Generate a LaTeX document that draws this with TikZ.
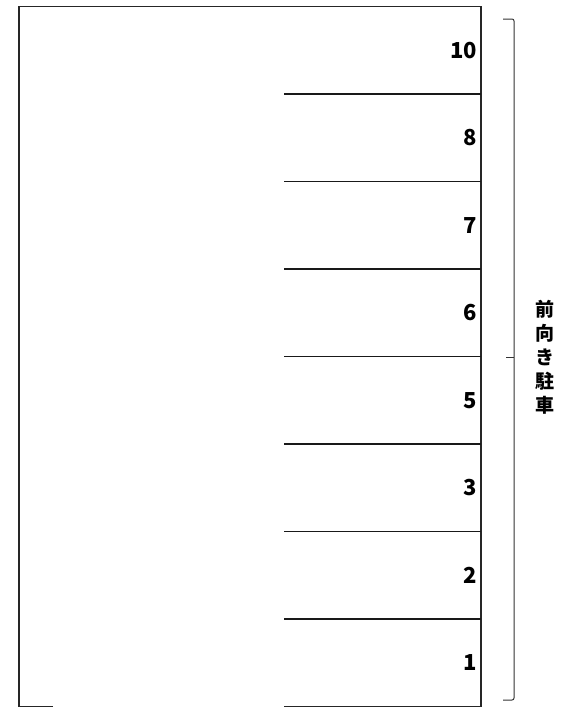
\documentclass[tikz,border=0pt]{standalone}
\usepackage{fontspec}
\setmainfont{Noto Sans CJK JP}
\usetikzlibrary{positioning}

\begin{document}
\begin{tikzpicture}[
    x=1pt,y=-1pt,
    wall/.style={line width=1.6pt,black!85},
    stall/.style={line width=1.4pt,black!90},
    num/.style={anchor=east,inner sep=0,font=\bfseries\fontsize{22}{22}\selectfont},
    brace/.style={line width=1pt,black!80,rounded corners=2pt},
    side/.style={inner sep=0,align=center,font=\bfseries\fontsize{19}{24}\selectfont}
    ]
    \useasboundingbox (0,0) rectangle (574,720);

    % outline of the lot
    \coordinate (tl) at (19,6.5);
    \coordinate (tr) at (481,6.5);
    \coordinate (bl) at (19,706.5);
    \coordinate (br) at (481,706.5);
    \coordinate (gl) at (53,706.5);
    \coordinate (gr) at (284,706.5);
    \draw [wall] (gl) -- (bl) -- (tl) -- (tr) -- (br) -- (gr);

    % stall numbers
    \foreach \n [count=\i] in {10,8,7,6,5,3,2,1} {
      \node [num] (s\n) at (477,{6.5+87.5*\i-43.75}) {\n};
    }

    % stall lines
    \foreach \i in {1,...,7} {
      \coordinate (a\i) at (284,{6.5+87.5*\i});
      \draw [stall] (a\i) -- (a\i -| tr);
    }

    % bracket
    \coordinate (b1) at (503,19);
    \coordinate (b2) at (503,700);
    \coordinate (bm) at (514,357);
    \coordinate (bt) at (506,357);
    \draw [brace] (b1) -| (bm) |- (b2);
    \draw [brace] (bm) -- (bt);

    \node [side,right=21pt of bm] (mode) {前\\向\\き\\駐\\車};
  \end{tikzpicture}
\end{document}
